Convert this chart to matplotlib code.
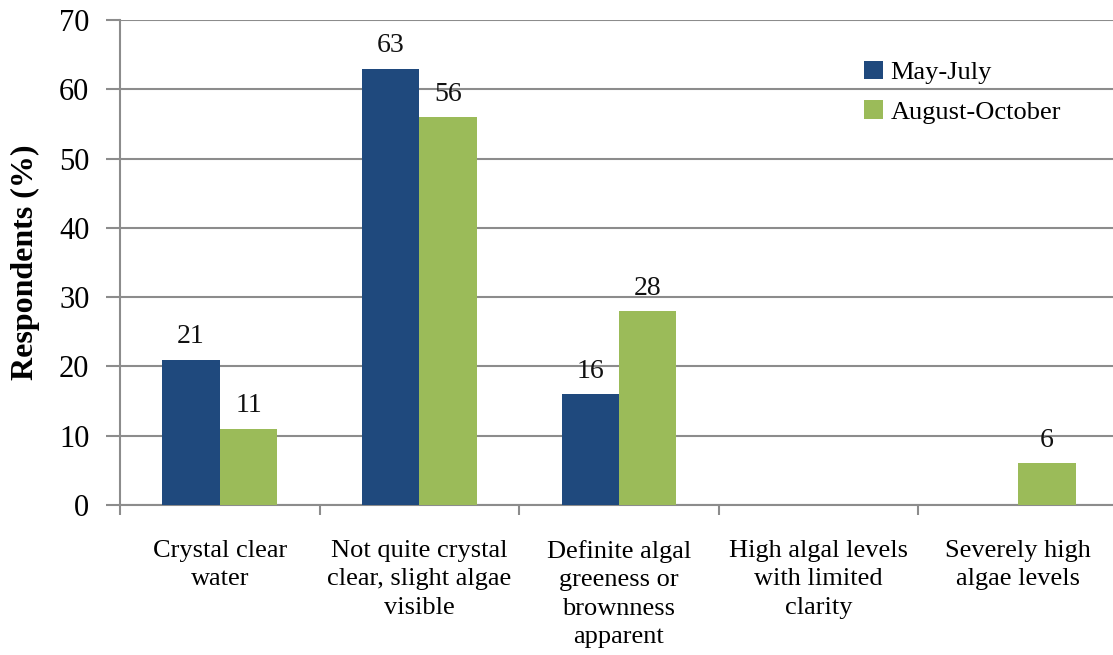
import matplotlib
matplotlib.use("Agg")
import matplotlib.pyplot as plt
import numpy as np

categories = [
    "Crystal clear\nwater",
    "Not quite crystal\nclear, slight algae\nvisible",
    "Definite algal\ngreeness or\nbrownness\napparent",
    "High algal levels\nwith limited\nclarity",
    "Severely high\nalgae levels",
]
may_july = [21, 63, 16, None, None]
aug_oct = [11, 56, 28, None, 6]
series_names = ["May-July", "August-October"]
colors = ["#1F497D", "#9BBB59"]
yticks = [0, 10, 20, 30, 40, 50, 60, 70]

plt.rcParams["font.family"] = ["Liberation Serif", "DejaVu Serif"]

W, H = 1113, 655
fig = plt.figure(figsize=(W / 100, H / 100), dpi=100)
ax = fig.add_axes([120 / W, (H - 505) / H, 998 / W, 485 / H])

x = np.arange(len(categories))
bw = 0.2875
grid_col = "#8C8C8C"

for i, (vals, name, col) in enumerate(zip([may_july, aug_oct], series_names, colors)):
    xs = [xi for xi, v in zip(x, vals) if v is not None]
    vs = [v for v in vals if v is not None]
    off = (i - 0.5) * bw
    bars = ax.bar(np.array(xs) + off, vs, width=bw, color=col, label=name, zorder=3)
    for b, v in zip(bars, vs):
        ax.text(b.get_x() + b.get_width() / 2, v + 1.5, f"{v}",
                ha="center", va="bottom", fontsize=20, color="#111111")

ax.set_xlim(-0.5, len(categories) - 0.5)
ax.set_ylim(0, 70)
ax.set_yticks(yticks)
ax.set_yticklabels([str(t) for t in yticks], fontsize=22)
ax.yaxis.grid(True, color=grid_col, linewidth=1.5, zorder=0)
ax.set_axisbelow(True)

# category boundaries carry the x tick marks; labels sit at the centres
ax.set_xticks(np.arange(len(categories) + 1) - 0.5)
ax.set_xticklabels([])
ax.set_xticks(x, minor=True)
ax.set_xticklabels(categories, minor=True, fontsize=19, linespacing=1.38)
ax.tick_params(axis="x", which="minor", length=0, pad=25)
ax.tick_params(axis="x", which="major", length=7, width=1.5, color=grid_col, direction="out")
ax.tick_params(axis="y", length=10, width=1.5, color=grid_col, direction="out", pad=12)

for s in ["top", "right"]:
    ax.spines[s].set_visible(False)
for s in ["left", "bottom"]:
    ax.spines[s].set_color(grid_col)
    ax.spines[s].set_linewidth(1.5)

ax.set_ylabel("Respondents (%)", fontsize=23, fontweight="bold", labelpad=14)

leg = ax.legend(loc="upper left", bbox_to_anchor=(0.722, 0.965), frameon=False,
                fontsize=19, handlelength=0.7, handleheight=0.7,
                handletextpad=0.3, labelspacing=0.6)

fig.savefig("out.png", dpi=100)
